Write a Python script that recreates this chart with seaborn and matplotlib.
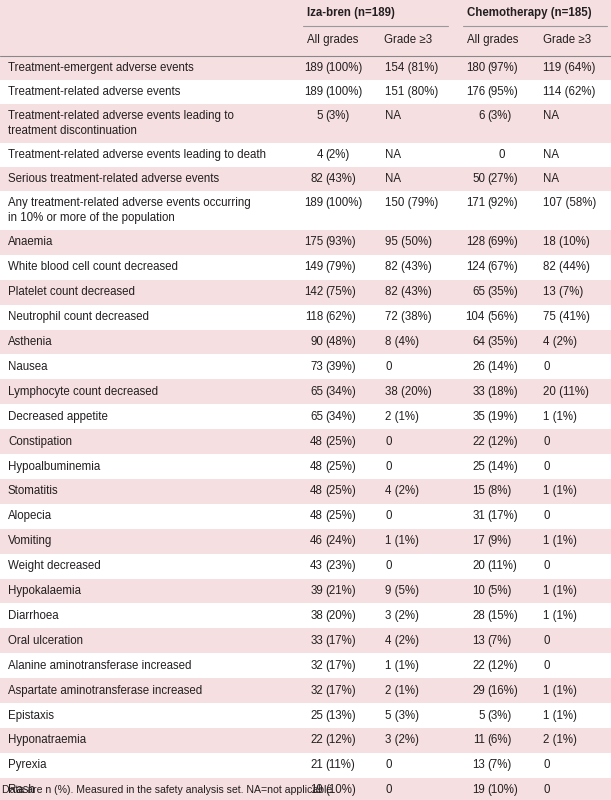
import matplotlib
matplotlib.use('Agg')
import matplotlib.pyplot as plt
import seaborn as sns

sns.set_theme(style='white')
plt.rcParams['font.family'] = ['Liberation Sans', 'DejaVu Sans']

labels = ['Treatment-emergent adverse events', 'Treatment-related adverse events',
          'Treatment-related adverse events leading to\ntreatment discontinuation',
          'Treatment-related adverse events leading to death',
          'Serious treatment-related adverse events',
          'Any treatment-related adverse events occurring\nin 10% or more of the population',
          'Anaemia', 'White blood cell count decreased', 'Platelet count decreased',
          'Neutrophil count decreased', 'Asthenia', 'Nausea', 'Lymphocyte count decreased',
          'Decreased appetite', 'Constipation', 'Hypoalbuminemia', 'Stomatitis', 'Alopecia',
          'Vomiting', 'Weight decreased', 'Hypokalaemia', 'Diarrhoea', 'Oral ulceration',
          'Alanine aminotransferase increased', 'Aspartate aminotransferase increased',
          'Epistaxis', 'Hyponatraemia', 'Pyrexia', 'Rash']
iza_all = ['189 (100%)', '189 (100%)', '5 (3%)', '4 (2%)', '82 (43%)', '189 (100%)',
           '175 (93%)', '149 (79%)', '142 (75%)', '118 (62%)', '90 (48%)', '73 (39%)',
           '65 (34%)', '65 (34%)', '48 (25%)', '48 (25%)', '48 (25%)', '48 (25%)',
           '46 (24%)', '43 (23%)', '39 (21%)', '38 (20%)', '33 (17%)', '32 (17%)',
           '32 (17%)', '25 (13%)', '22 (12%)', '21 (11%)', '19 (10%)']
iza_g3 = ['154 (81%)', '151 (80%)', 'NA', 'NA', 'NA', '150 (79%)', '95 (50%)', '82 (43%)',
          '82 (43%)', '72 (38%)', '8 (4%)', '0', '38 (20%)', '2 (1%)', '0', '0', '4 (2%)',
          '0', '1 (1%)', '0', '9 (5%)', '3 (2%)', '4 (2%)', '1 (1%)', '2 (1%)', '5 (3%)',
          '3 (2%)', '0', '0']
chemo_all = ['180 (97%)', '176 (95%)', '6 (3%)', '0', '50 (27%)', '171 (92%)', '128 (69%)',
             '124 (67%)', '65 (35%)', '104 (56%)', '64 (35%)', '26 (14%)', '33 (18%)',
             '35 (19%)', '22 (12%)', '25 (14%)', '15 (8%)', '31 (17%)', '17 (9%)',
             '20 (11%)', '10 (5%)', '28 (15%)', '13 (7%)', '22 (12%)', '29 (16%)',
             '5 (3%)', '11 (6%)', '13 (7%)', '19 (10%)']
chemo_g3 = ['119 (64%)', '114 (62%)', 'NA', 'NA', 'NA', '107 (58%)', '18 (10%)', '82 (44%)',
            '13 (7%)', '75 (41%)', '4 (2%)', '0', '20 (11%)', '1 (1%)', '0', '0', '1 (1%)',
            '0', '1 (1%)', '0', '1 (1%)', '1 (1%)', '0', '0', '1 (1%)', '1 (1%)', '2 (1%)',
            '0', '0']

pink = '#f5dfe1'
ink = '#231f20'
fs = 8.3

fig = plt.figure(figsize=(6.11, 8.0), dpi=100)
ax = fig.add_axes([0, 0, 1, 1])
ax.set_xlim(0, 611)
ax.set_ylim(800, 0)
ax.axis('off')

# header
ax.axhspan(0, 56, color=pink, lw=0)
ax.text(307, 13, 'Iza-bren (n=189)', fontsize=fs, fontweight='bold', color=ink, va='center')
ax.text(467, 13, 'Chemotherapy (n=185)', fontsize=fs, fontweight='bold', color=ink, va='center')
ax.plot([303, 448], [26, 26], color='#999999', lw=0.8)
ax.plot([463, 607], [26, 26], color='#999999', lw=0.8)
for x, t in [(307, 'All grades'), (384, 'Grade ≥3'), (467, 'All grades'), (543, 'Grade ≥3')]:
    ax.text(x, 40, t, fontsize=fs, color=ink, va='center')
ax.plot([0, 611], [55.5, 55.5], color='#888888', lw=0.8)


def num_cell(x, s, y):
    if ' ' in s:
        n, p = s.split(' ')
        ax.text(x, y, n, fontsize=fs, color=ink, va='center', ha='right')
        ax.text(x + 2.5, y, p, fontsize=fs, color=ink, va='center', ha='left')
    else:
        ax.text(x + (17 if s == '0' else 0), y, s, fontsize=fs, color=ink, va='center', ha='center')


y = 56
for i, lab in enumerate(labels):
    two = '\n' in lab
    h = 39 if two else (24 if i < 6 else 24.9)
    if i % 2 == 0:
        ax.axhspan(y, y + h, color=pink, lw=0)
    ty = y + 12 if two else y + h / 2
    ax.text(8, y + 19.5 if two else ty, lab, fontsize=fs, color=ink, va='center',
            linespacing=1.35)
    num_cell(323, iza_all[i], ty)
    ax.text(385, ty, iza_g3[i], fontsize=fs, color=ink, va='center')
    num_cell(485, chemo_all[i], ty)
    ax.text(543, ty, chemo_g3[i], fontsize=fs, color=ink, va='center')
    y += h

ax.text(2, 790, 'Data are n (%). Measured in the safety analysis set. NA=not applicable.',
        fontsize=7.6, color=ink, va='center')

fig.savefig('out.png', dpi=100)
